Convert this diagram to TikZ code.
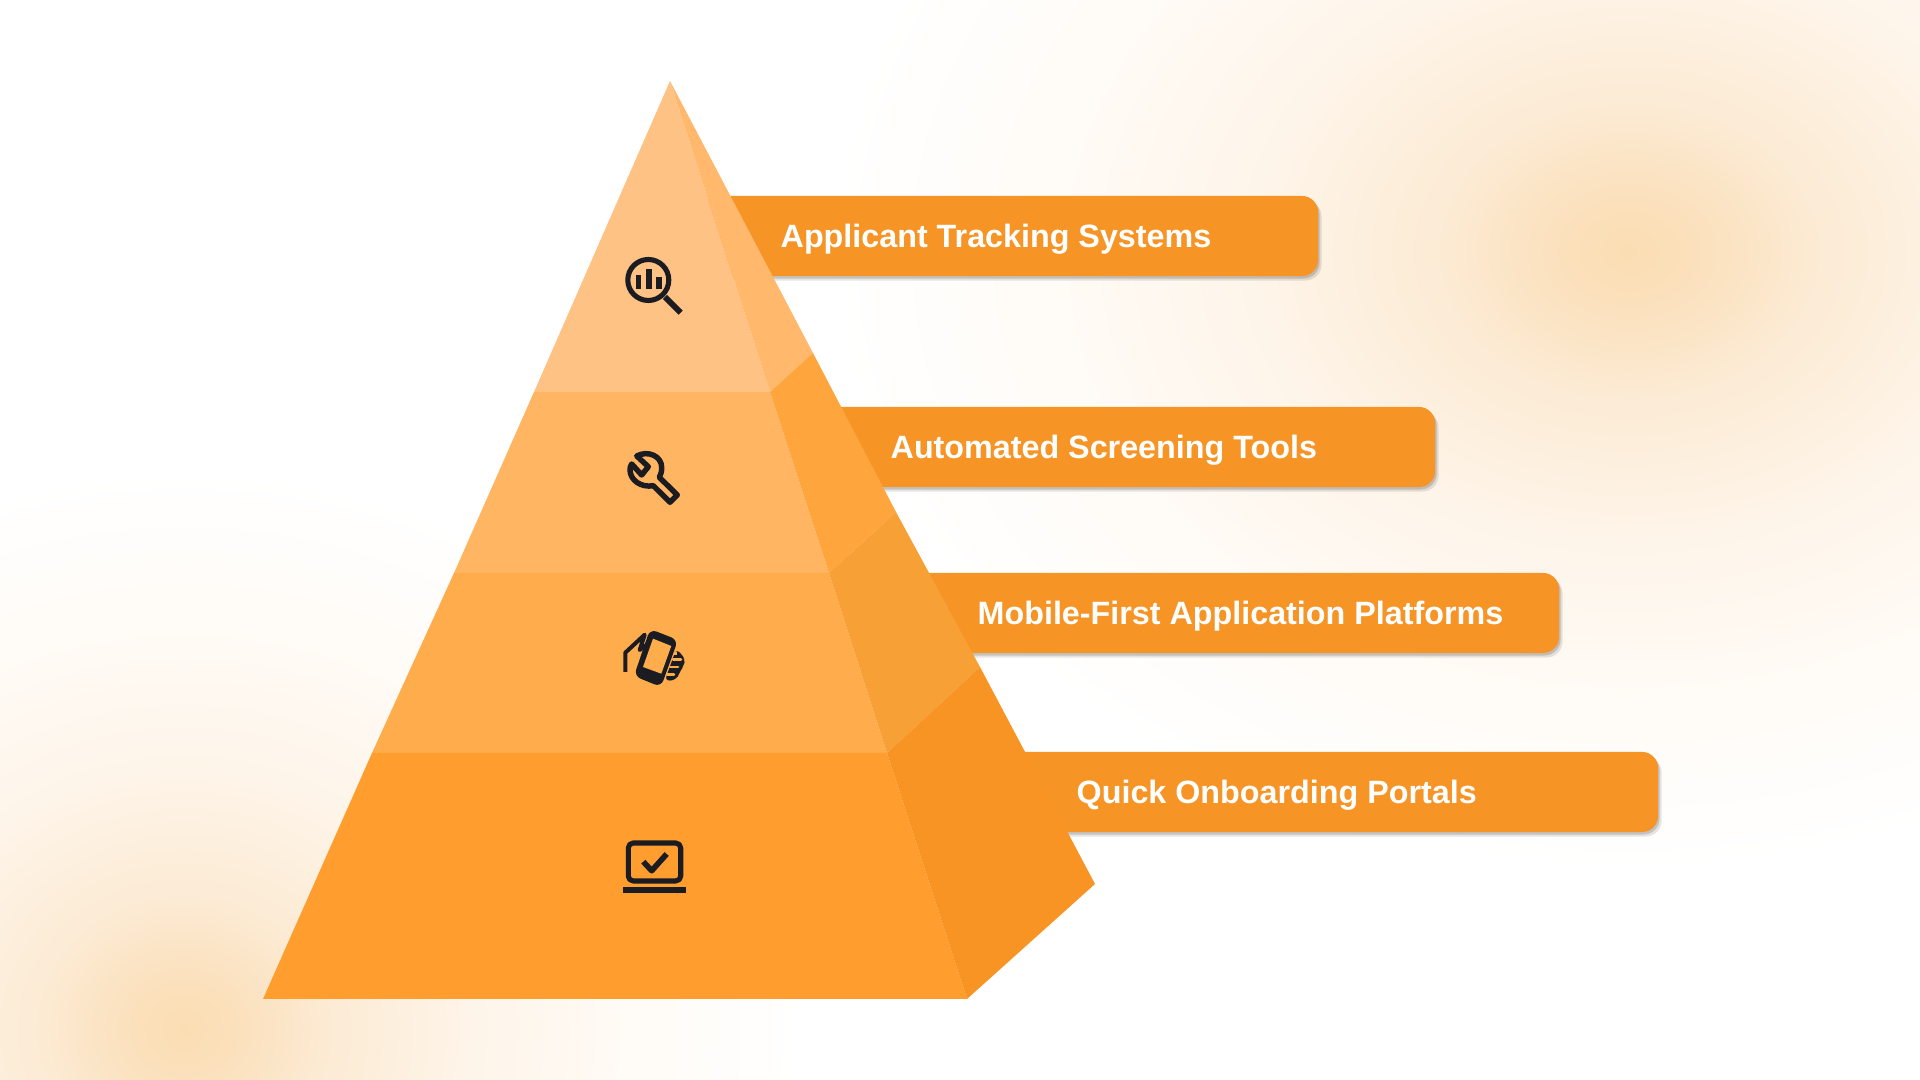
\documentclass[tikz,border=0pt]{standalone}
\usepackage{fontspec}
\setmainfont{Liberation Sans}
\usetikzlibrary{shadows}
\definecolor{bandcol}{HTML}{F79426}
\definecolor{icocol}{HTML}{1B1C22}
\definecolor{fronta}{HTML}{FFC285}
\definecolor{sidea}{HTML}{FFB86C}
\definecolor{frontb}{HTML}{FFB562}
\definecolor{sideb}{HTML}{FFA53D}
\definecolor{frontc}{HTML}{FFAC4D}
\definecolor{sidec}{HTML}{F7A035}
\definecolor{frontd}{HTML}{FF9E2F}
\definecolor{sided}{HTML}{F79424}
\pgfdeclareradialshading{glow}{\pgfpointorigin}{
  rgb(0bp)=(.984,.867,.698);
  rgb(2.5bp)=(.984,.882,.745);
  rgb(6bp)=(.988,.922,.835);
  rgb(12bp)=(.996,.961,.918);
  rgb(18bp)=(1,.984,.965);
  rgb(25bp)=(1,1,1);
  rgb(50bp)=(1,1,1)}
\tikzset{
  band/.style={fill=bandcol,rounded corners=.16cm,minimum height=.8cm,inner sep=0pt,anchor=west,
    drop shadow={shadow xshift=.035cm,shadow yshift=-.045cm,opacity=.1,fill=black},
    drop shadow={shadow xshift=.015cm,shadow yshift=-.025cm,opacity=.15,fill=black}},
  bandtext/.style={text=white,anchor=base west,inner sep=0pt,font=\bfseries\fontsize{9.18}{11}\selectfont},
  ico/.style={draw=icocol,line width=1.35pt,line join=round},
  icofill/.style={fill=icocol,draw=none}
}
\begin{document}
\begin{tikzpicture}[x=.01cm,y=-.01cm]
\useasboundingbox (0,0) rectangle (1920,1080);
\clip (0,0) rectangle (1920,1080);
\shade[shading=glow] (1629,251) ellipse (800 and 620);
\shade[shading=glow] (184,1029) ellipse (620 and 560);
% label bands
\node[band,minimum width=6.17cm] (atsband) at (700,236) {};
\node[band,minimum width=6.34cm] (toolband) at (800,447) {};
\node[band,minimum width=6.68cm] (mobileband) at (890,613) {};
\node[band,minimum width=6.97cm] (portalband) at (960,792) {};
\node[bandtext] (atstext) at (780,248) {Applicant Tracking Systems};
\node[bandtext] (tooltext) at (890,459) {Automated Screening Tools};
\node[bandtext] (mobiletext) at (977,625) {Mobile-First Application Platforms};
\node[bandtext] (portaltext) at (1076,804) {Quick Onboarding Portals};
% pyramid
\fill[fronta] (670,81)--(770,392)--(534,392)--cycle;
\fill[sidea] (670,81)--(813,353)--(770,392)--cycle;
\fill[frontb] (534,392)--(770,392)--(829,573)--(454,573)--cycle;
\fill[sideb] (770,392)--(813,353)--(896,512)--(829,573)--cycle;
\fill[frontc] (454,573)--(829,573)--(887,753)--(372,753)--cycle;
\fill[sidec] (829,573)--(896,512)--(980,667)--(887,753)--cycle;
\fill[frontd] (372,753)--(887,753)--(967,999)--(263,999)--cycle;
\fill[sided] (887,753)--(980,667)--(1095,884)--(967,999)--cycle;
% magnifier
\draw[ico,line width=1.45pt] (648.3,280) circle (20.5);
\draw[ico,line width=1.7pt] (665,297)--(680.7,312.7);
\fill[icofill] (636,275) rectangle (641,289);
\fill[icofill] (646,269.5) rectangle (651.7,289);
\fill[icofill] (656,277.5) rectangle (661.7,289);
% wrench
\draw[ico,line width=1.55pt] (636.7,456) .. controls (648,450) and (662,456) .. (661.7,468)
  .. controls (661.7,472) and (660.5,475) .. (659.3,477.3)--(677.3,495)--(670,502.3)--(653.3,485.7)
  .. controls (641,488) and (630,480) .. (630,470)
  .. controls (630,467.5) and (630.5,465.5) .. (631.7,464)--(641.7,475)--(648.3,466.7)--cycle;
% phone in hand
\fill[icofill,rounded corners=1.5pt] (676.3,648.7)--(685.7,659.3)--(683,667)--(679.7,672)--(676.3,680)--(664.7,681)--cycle;
\fill[icofill,rounded corners=2pt] (650,629)--(678,640)--(661,687)--(634,676)--cycle;
\fill[frontc] (653,638.7)--(671.3,646)--(661.3,673.7)--(643,667)--cycle;
\draw[ico,line width=1.15pt] (625.3,672)--(625.3,652.7)--(644.7,634.7)--(639.7,650)--(648,644);
\draw[frontc,line width=.8pt,line cap=round] (673,659.3)--(681,659.3);
\draw[frontc,line width=.8pt,line cap=round] (670,667)--(678,667);
\draw[frontc,line width=.8pt,line cap=round] (667,674.5)--(674,674.5);
\draw[frontc,line width=.7pt] (674,653.5)--(676.5,653.5);
% laptop with check
\draw[ico,line width=1.45pt,rounded corners=1.4pt] (628.3,843) rectangle (680.7,881);
\draw[ico,line width=1.6pt] (643.3,861.7)--(651.7,870.7)--(666.7,854);
\fill[icofill] (622.7,886.7) rectangle (686,892.7);
\end{tikzpicture}
\end{document}
